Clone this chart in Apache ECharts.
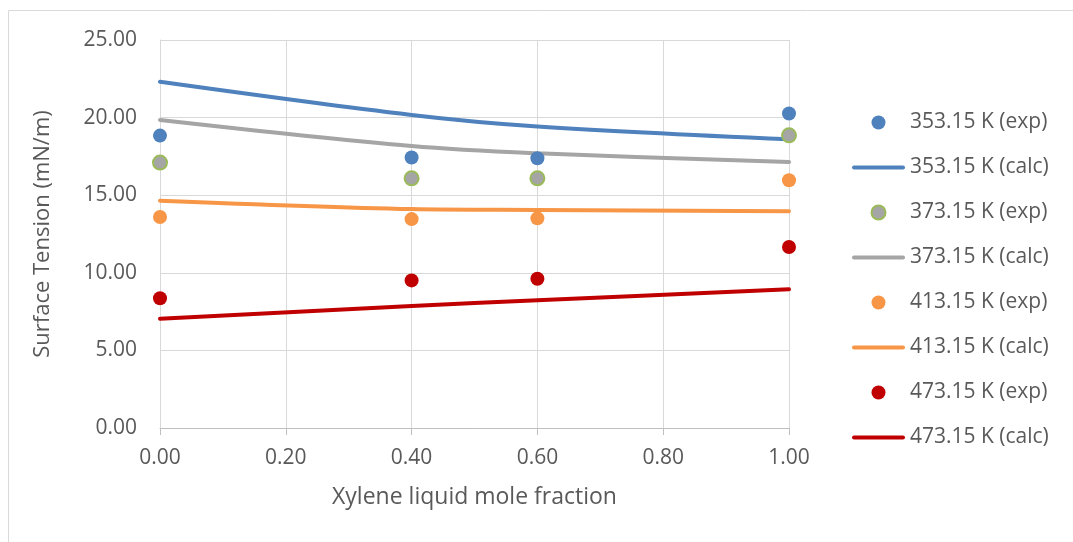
<!DOCTYPE html>
<html>
<head>
<meta charset="utf-8">
<script src="https://cdn.jsdelivr.net/npm/echarts@6/dist/echarts.min.js"></script>
<style>
  html, body { margin: 0; padding: 0; background: #ffffff; }
  #chart { width: 1073px; height: 542px; }
</style>
</head>
<body>
<div id="chart"></div>
<script>
// Xylene liquid mole fraction at which each value is given
const molFraction = [0.0, 0.4, 0.6, 1.0];

// Surface tension (mN/m), measured
const exp353 = [18.84, 17.43, 17.38, 20.26];
const exp373 = [17.10, 16.09, 16.09, 18.86];
const exp413 = [13.60, 13.46, 13.51, 15.96];
const exp473 = [8.36, 9.51, 9.62, 11.66];

// Surface tension (mN/m), calculated
const calc353 = [22.31, 20.17, 19.43, 18.60];
const calc373 = [19.85, 18.17, 17.70, 17.14];
const calc413 = [14.65, 14.11, 14.05, 13.96];
const calc473 = [7.04, 7.86, 8.23, 8.94];

const yTicks = { min: 0, max: 25, step: 5 };
const xTicks = { min: 0, max: 1, step: 0.2 };

const pairs = (ys) => molFraction.map((x, i) => [x, ys[i]]);

const textColor = '#595959';
const fontFamily = '"Open Sans", sans-serif';
// thick rounded bar used as the legend key of the calculated curves
const lineIcon = 'path://M2,0 L51,0 A2,2 0 0 1 51,4 L2,4 A2,2 0 0 1 2,0 Z';

function expSeries(name, ys, fill, border) {
  return {
    name: name,
    type: 'scatter',
    data: pairs(ys),
    symbol: 'circle',
    symbolSize: 14,
    clip: false,
    itemStyle: { color: fill, borderColor: border || fill, borderWidth: border ? 2 : 0, opacity: 1 },
    emphasis: { disabled: true },
    z: 3
  };
}

function calcSeries(name, ys, color) {
  return {
    name: name,
    type: 'line',
    data: pairs(ys),
    smooth: 0.35,
    symbol: 'none',
    showSymbol: false,
    clip: false,
    lineStyle: { color: color, width: 4, cap: 'round' },
    itemStyle: { color: color },
    emphasis: { disabled: true },
    z: 2
  };
}

const chart = echarts.init(document.getElementById('chart'));
chart.setOption({
  animation: false,
  backgroundColor: '#ffffff',
  textStyle: { fontFamily: fontFamily, color: textColor },
  graphic: [{
    type: 'rect',
    shape: { x: 8.5, y: 10.5, width: 1100, height: 600 },
    style: { fill: 'none', stroke: '#d9d9d9', lineWidth: 1 },
    silent: true,
    z: -1
  }],
  grid: { left: 160, right: 284, top: 40, bottom: 114 },
  xAxis: {
    type: 'value',
    min: xTicks.min,
    max: xTicks.max,
    interval: xTicks.step,
    name: 'Xylene liquid mole fraction',
    nameLocation: 'middle',
    nameGap: 58,
    nameTextStyle: { fontSize: 23, color: textColor, fontFamily: fontFamily },
    axisLine: { show: true, onZero: false, lineStyle: { color: '#bfbfbf', width: 1 } },
    axisTick: { show: true, length: 7, lineStyle: { color: '#bfbfbf' } },
    axisLabel: { fontSize: 21, color: textColor, margin: 20, formatter: (v) => v.toFixed(2) },
    splitLine: { show: true, lineStyle: { color: '#d9d9d9', width: 1 } }
  },
  yAxis: {
    type: 'value',
    min: yTicks.min,
    max: yTicks.max,
    interval: yTicks.step,
    name: 'Surface Tension (mN/m)',
    nameLocation: 'middle',
    nameGap: 106,
    nameTextStyle: { fontSize: 22, color: textColor, fontFamily: fontFamily },
    axisLine: { show: true, lineStyle: { color: '#d9d9d9', width: 1 } },
    axisTick: { show: false },
    axisLabel: { fontSize: 21, color: textColor, margin: 23, formatter: (v) => v.toFixed(2) },
    splitLine: { show: true, lineStyle: { color: '#d9d9d9', width: 1 } }
  },
  legend: {
    orient: 'vertical',
    left: 852,
    top: 112,
    padding: 0,
    itemWidth: 53,
    itemHeight: 14,
    itemGap: 24,
    selectedMode: false,
    textStyle: { fontSize: 21, color: textColor, lineHeight: 20, fontFamily: fontFamily },
    data: [
      { name: '353.15 K (exp)', icon: 'circle' },
      { name: '353.15 K (calc)', icon: lineIcon },
      { name: '373.15 K (exp)', icon: 'circle' },
      { name: '373.15 K (calc)', icon: lineIcon },
      { name: '413.15 K (exp)', icon: 'circle' },
      { name: '413.15 K (calc)', icon: lineIcon },
      { name: '473.15 K (exp)', icon: 'circle' },
      { name: '473.15 K (calc)', icon: lineIcon }
    ]
  },
  series: [
    expSeries('353.15 K (exp)', exp353, '#4f81bd'),
    calcSeries('353.15 K (calc)', calc353, '#4f81bd'),
    expSeries('373.15 K (exp)', exp373, '#a5a5a5', '#9bbb59'),
    calcSeries('373.15 K (calc)', calc373, '#a5a5a5'),
    expSeries('413.15 K (exp)', exp413, '#f79646'),
    calcSeries('413.15 K (calc)', calc413, '#f79646'),
    expSeries('473.15 K (exp)', exp473, '#c00000'),
    calcSeries('473.15 K (calc)', calc473, '#c00000')
  ]
});
</script>
</body>
</html>
